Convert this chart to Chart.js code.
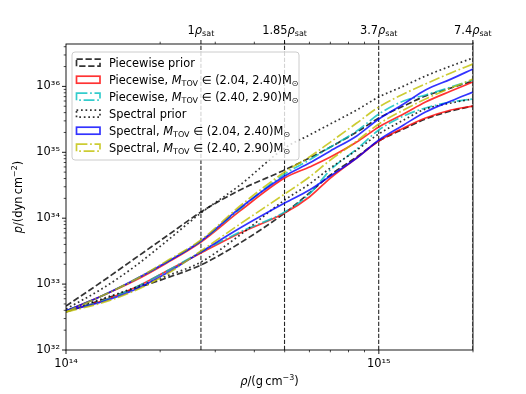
<!DOCTYPE html>
<html>
<head>
<meta charset="utf-8">
<script src="https://cdn.jsdelivr.net/npm/chart.js@4.4.1/dist/chart.umd.min.js"></script>
<style>
  html, body { margin: 0; padding: 0; background: #fff; }
  #wrap { width: 526px; height: 394px; }
</style>
</head>
<body>
<div id="wrap"><canvas id="c" width="526" height="394"></canvas></div>
<script>
// density grid (g cm^-3)
const rho = [1e14, 1.3e14, 1.65e14, 2.1e14, 2.7e14, 3.6e14, 5e14, 6e14, 7e14, 8.5e14, 1e15, 1.2e15, 1.41e15, 1.7e15, 2e15];

// pressure bounds (dyn cm^-2)
const pwPriorHi = [4.65e32, 1.08e33, 2.40e33, 5.37e33, 1.24e34, 2.68e34, 5.39e34, 8.20e34, 1.20e35, 2.03e35, 3.31e35, 5.04e35, 7.15e35, 9.46e35, 1.21e36];
const pwPriorLo = [3.78e32, 5.74e32, 8.43e32, 1.24e33, 1.95e33, 4.20e33, 1.20e34, 2.41e34, 4.53e34, 8.49e34, 1.48e35, 2.26e35, 3.20e35, 4.24e35, 5.04e35];
const pwLowHi = [3.91e32, 6.59e32, 1.11e33, 2.09e33, 4.35e33, 1.29e34, 4.07e34, 5.98e34, 8.49e34, 1.43e35, 2.42e35, 3.81e35, 5.80e35, 8.51e35, 1.17e36];
const pwLowLo = [3.91e32, 5.54e32, 8.73e32, 1.58e33, 2.96e33, 5.96e33, 1.20e34, 2.10e34, 4.07e34, 8.20e34, 1.48e35, 2.34e35, 3.31e35, 4.39e35, 5.04e35];
const pwHighHi = [3.91e32, 6.59e32, 1.15e33, 2.16e33, 4.51e33, 1.38e34, 4.69e34, 7.64e34, 1.20e35, 2.10e35, 3.81e35, 6.00e35, 7.41e35, 9.79e35, 1.25e36];
const pwHighLo = [3.91e32, 5.54e32, 8.73e32, 1.58e33, 3.07e33, 6.18e33, 1.24e34, 2.33e34, 5.39e34, 1.12e35, 2.18e35, 3.56e35, 4.70e35, 5.80e35, 6.44e35];
const spPriorHi = [4.19e32, 8.43e32, 1.82e33, 4.51e33, 1.20e34, 3.19e34, 1.16e35, 1.83e35, 2.69e35, 4.39e35, 6.91e35, 1.01e36, 1.44e36, 2.04e36, 2.70e36];
const spPriorLo = [3.91e32, 5.94e32, 8.73e32, 1.33e33, 2.16e33, 5.56e33, 1.89e34, 3.30e34, 5.78e34, 1.08e35, 1.90e35, 3.09e35, 4.54e35, 5.60e35, 6.44e35];
const spLowHi = [3.91e32, 6.59e32, 1.15e33, 2.16e33, 4.51e33, 1.43e34, 4.37e34, 6.88e34, 1.05e35, 1.77e35, 3.20e35, 5.41e35, 8.82e35, 1.29e36, 1.84e36];
const spLowLo = [3.91e32, 5.35e32, 8.13e32, 1.47e33, 3.07e33, 7.10e33, 1.70e34, 2.68e34, 4.37e34, 8.20e34, 1.54e35, 2.60e35, 4.09e35, 6.00e35, 8.22e35];
const spHighHi = [3.78e32, 6.59e32, 1.15e33, 2.24e33, 4.67e33, 1.53e34, 5.02e34, 8.49e34, 1.43e35, 2.78e35, 4.87e35, 7.67e35, 1.09e36, 1.60e36, 2.19e36];
const spHighLo = [3.78e32, 5.17e32, 7.85e32, 1.42e33, 3.18e33, 8.16e33, 2.33e34, 4.22e34, 7.64e34, 1.48e35, 2.69e35, 4.39e35, 6.44e35, 9.46e35, 1.29e36];

// saturation density marks on the top axis
const rhoSat = 2.7e14;
const satFactors = [1, 1.85, 3.7, 7.4];
const satLabels = ['1', '1.85', '3.7', '7.4'];

// axis limits
const xMin = 1e14, xMax = 2e15;
const yMin = 1e32, yMax = 4.4e36;

const FONT = '"DejaVu Sans", "Liberation Sans", sans-serif';
const FS = 11.4;

const DASHED = [6.3, 2.7];
const DOTTED = [1.7, 2.8];
const DASHDOT = [10.9, 2.7, 1.7, 2.7];

// one entry per band (upper + lower curve)
const bands = [
  { label: 'Piecewise prior', hi: pwPriorHi, lo: pwPriorLo, color: 'rgba(0,0,0,0.8)', dash: DASHED },
  { label: 'Piecewise, ', range: '(2.04, 2.40)', hi: pwLowHi, lo: pwLowLo, color: 'rgba(255,0,0,0.8)', dash: [] },
  { label: 'Piecewise, ', range: '(2.40, 2.90)', hi: pwHighHi, lo: pwHighLo, color: 'rgba(0,191,191,0.8)', dash: DASHDOT },
  { label: 'Spectral prior', hi: spPriorHi, lo: spPriorLo, color: 'rgba(0,0,0,0.8)', dash: DOTTED },
  { label: 'Spectral, ', range: '(2.04, 2.40)', hi: spLowHi, lo: spLowLo, color: 'rgba(0,0,255,0.8)', dash: [] },
  { label: 'Spectral, ', range: '(2.40, 2.90)', hi: spHighHi, lo: spHighLo, color: 'rgba(191,191,0,0.8)', dash: DASHDOT },
];

const SUP = { '0': '⁰', '1': '¹', '2': '²', '3': '³', '4': '⁴', '5': '⁵', '6': '⁶', '7': '⁷', '8': '⁸', '9': '⁹', '-': '⁻' };
const isPow10 = v => Math.abs(Math.log10(v) - Math.round(Math.log10(v))) < 1e-6;
const pow10Label = v => '10' + String(Math.round(Math.log10(v))).split('').map(c => SUP[c]).join('');

// log ticks 1..9 x 10^n inside [min, max]
function logTicks(min, max) {
  const out = [];
  for (let e = Math.floor(Math.log10(min)); e <= Math.ceil(Math.log10(max)); e++) {
    for (let m = 1; m <= 9; m++) {
      const v = m * Math.pow(10, e);
      if (v >= min * (1 - 1e-9) && v <= max * (1 + 1e-9)) out.push({ value: v, major: m === 1 });
    }
  }
  return out;
}

// text made of pieces: {t, it, sub, sup}
function partFont(p) {
  const sz = (p.sub || p.sup) ? FS * 0.7 : FS;
  return (p.it ? 'italic ' : '') + sz + 'px ' + FONT;
}
function richWidth(ctx, parts) {
  let w = 0;
  parts.forEach(p => { ctx.font = partFont(p); w += ctx.measureText(p.t).width; });
  return w;
}
function drawRich(ctx, parts, x, y, align) {
  let cx = x;
  if (align === 'center') cx -= richWidth(ctx, parts) / 2;
  ctx.textAlign = 'left';
  ctx.textBaseline = 'alphabetic';
  parts.forEach(p => {
    ctx.font = partFont(p);
    const dy = p.sub ? FS * 0.22 : p.sup ? -FS * 0.4 : 0;
    ctx.fillText(p.t, cx, y + dy);
    cx += ctx.measureText(p.t).width;
  });
}

const datasets = [];
bands.forEach((b, i) => {
  [b.hi, b.lo].forEach(arr => {
    datasets.push({
      data: rho.map((x, k) => ({ x, y: arr[k] })),
      borderColor: b.color,
      borderWidth: 1.7,
      borderDash: b.dash,
      pointRadius: 0,
      fill: false,
      cubicInterpolationMode: 'monotone',
      order: 100 - i
    });
  });
});
satFactors.forEach(f => {
  datasets.push({
    data: [{ x: f * rhoSat, y: yMin }, { x: f * rhoSat, y: yMax }],
    borderColor: 'rgba(0,0,0,0.85)',
    borderWidth: 1.1,
    borderDash: [4.2, 1.8],
    pointRadius: 0,
    fill: false,
    order: 200
  });
});

const decor = {
  id: 'decor',
  afterDraw(chart) {
    const { ctx, chartArea: a, scales } = chart;
    ctx.save();
    ctx.strokeStyle = '#000';
    ctx.fillStyle = '#000';
    ctx.setLineDash([]);

    const seg = (x1, y1, x2, y2, w) => {
      ctx.lineWidth = w;
      ctx.beginPath(); ctx.moveTo(x1, y1); ctx.lineTo(x2, y2); ctx.stroke();
    };

    // bottom ticks, minor ones mirrored on top
    scales.x.ticks.forEach(t => {
      const px = scales.x.getPixelForValue(t.value);
      seg(px, a.bottom, px, a.bottom + (t.major ? 4 : 2.3), t.major ? 0.9 : 0.7);
      if (!t.major) seg(px, a.top, px, a.top - 2.3, 0.7);
    });
    // top: saturation density ticks and labels
    scales.x2.ticks.forEach((t, i) => {
      const px = scales.x2.getPixelForValue(t.value);
      seg(px, a.top, px, a.top - 4, 0.9);
      drawRich(ctx, [{ t: satLabels[i] }, { t: 'ρ', it: true }, { t: 'sat', sub: true }], px, a.top - 10.5, 'center');
    });
    // left ticks
    scales.y.ticks.forEach(t => {
      const py = scales.y.getPixelForValue(t.value);
      seg(a.left, py, a.left - (t.major ? 4 : 2.3), py, t.major ? 0.9 : 0.7);
    });

    // frame
    ctx.lineWidth = 0.9;
    ctx.strokeRect(a.left, a.top, a.right - a.left, a.bottom - a.top);

    // axis titles
    drawRich(ctx, [{ t: 'ρ', it: true }, { t: '/(g\u2009cm' }, { t: '−3', sup: true }, { t: ')' }], (a.left + a.right) / 2, 385, 'center');
    ctx.save();
    ctx.translate(22, (a.top + a.bottom) / 2);
    ctx.rotate(-Math.PI / 2);
    drawRich(ctx, [{ t: 'p', it: true }, { t: '/(dyn\u2009cm' }, { t: '−2', sup: true }, { t: ')' }], 0, 0, 'center');
    ctx.restore();

    // legend
    const lx = 72, ly = 52, lw = 227, lh = 108;
    ctx.beginPath();
    ctx.roundRect(lx, ly, lw, lh, 3);
    ctx.fillStyle = 'rgba(255,255,255,0.8)';
    ctx.fill();
    ctx.strokeStyle = '#cccccc';
    ctx.lineWidth = 1;
    ctx.stroke();

    bands.forEach((b, i) => {
      const cy = 62.7 + i * 17;
      ctx.strokeStyle = b.color;
      ctx.lineWidth = 1.7;
      ctx.setLineDash(b.dash);
      ctx.strokeRect(76.5, cy - 3.5, 23.5, 7);
      ctx.setLineDash([]);
      ctx.fillStyle = '#000';
      const parts = [{ t: b.label }];
      if (b.range) {
        parts.push({ t: 'M', it: true }, { t: 'TOV', sub: true }, { t: ' ∈ ' + b.range + 'M' }, { t: '⊙', sub: true });
      }
      drawRich(ctx, parts, 109, cy + 4, 'left');
    });

    ctx.restore();
  }
};

const tickFont = { family: FONT, size: FS };

new Chart(document.getElementById('c'), {
  type: 'line',
  data: { datasets },
  options: {
    responsive: false,
    animation: false,
    events: [],
    layout: { padding: { left: 0, right: 53, top: 0, bottom: 0 } },
    plugins: { legend: { display: false }, tooltip: { enabled: false } },
    scales: {
      x: {
        type: 'logarithmic',
        position: 'bottom',
        min: xMin,
        max: xMax,
        afterBuildTicks: s => { s.ticks = logTicks(xMin, xMax); },
        afterFit: s => { s.height = 44; },
        grid: { display: false, drawTicks: false },
        border: { display: false },
        ticks: {
          autoSkip: false, maxRotation: 0, padding: 7, color: '#000', font: tickFont,
          callback: v => isPow10(v) ? pow10Label(v) : ''
        }
      },
      x2: {
        type: 'logarithmic',
        position: 'top',
        min: xMin,
        max: xMax,
        afterBuildTicks: s => { s.ticks = satFactors.map(f => ({ value: f * rhoSat })); },
        afterFit: s => { s.height = 44; },
        grid: { display: false, drawTicks: false },
        border: { display: false },
        ticks: { display: false }
      },
      y: {
        type: 'logarithmic',
        position: 'left',
        min: yMin,
        max: yMax,
        afterBuildTicks: s => { s.ticks = logTicks(yMin, yMax); },
        afterFit: s => { s.width = 66; },
        grid: { display: false, drawTicks: false },
        border: { display: false },
        ticks: {
          autoSkip: false, padding: 6, color: '#000', font: tickFont,
          callback: v => isPow10(v) ? pow10Label(v) : ''
        }
      }
    }
  },
  plugins: [decor]
});
</script>
</body>
</html>
